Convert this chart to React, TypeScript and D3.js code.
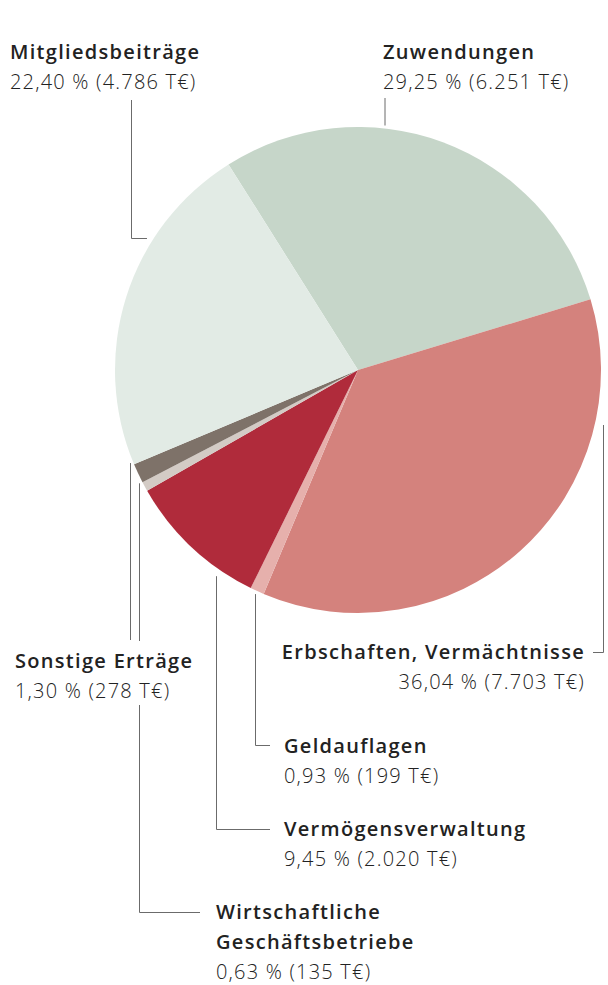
import React from "react";
import * as d3 from "d3";

// Ertragsstruktur, Anteile in Prozent und Beträge in T€
const categories = [
  "Zuwendungen",
  "Erbschaften, Vermächtnisse",
  "Geldauflagen",
  "Vermögensverwaltung",
  "Wirtschaftliche Geschäftsbetriebe",
  "Sonstige Erträge",
  "Mitgliedsbeiträge",
];
const shares = [29.25, 36.04, 0.93, 9.45, 0.63, 1.3, 22.4];
const amounts = [6251, 7703, 199, 2020, 135, 278, 4786];
const titleLines = [
  ["Zuwendungen"],
  ["Erbschaften, Vermächtnisse"],
  ["Geldauflagen"],
  ["Vermögensverwaltung"],
  ["Wirtschaftliche", "Geschäftsbetriebe"],
  ["Sonstige Erträge"],
  ["Mitgliedsbeiträge"],
];
const colors = ["#c6d6c9", "#d4827d", "#e6b0ac", "#b02b3b", "#d3cbc5", "#7e7269", "#e2ebe5"];

const W = 608;
const H = 985;
const cx = 358;
const cy = 370;
const R = 243;
const startDeg = -32.2;

// label placement and leader routing (layout only)
type Lbl = { x: number; y: number; anchor: string; knockout?: number[]; leader: () => [number, number][] };
const edgeX = (y: number, side: number) => cx + side * Math.sqrt(R * R - (y - cy) * (y - cy));
const edgeY = (x: number, side: number) => cy + side * Math.sqrt(R * R - (x - cx) * (x - cx));

const labels: Lbl[] = [
  { x: 383, y: 59, anchor: "start", leader: () => [[385, 98], [385, edgeY(385, -1) - 3]] },
  { x: 585, y: 659, anchor: "end", leader: () => [[593, 652.5], [603.5, 652.5], [603.5, 425]] },
  { x: 284, y: 753, anchor: "start", leader: () => [[270, 745.5], [255.5, 745.5], [255.5, edgeY(255, 1) + 4]] },
  { x: 284, y: 836, anchor: "start", leader: () => [[270, 829.5], [216.5, 829.5], [216.5, edgeY(216, 1) + 9]] },
  { x: 216, y: 919, anchor: "start", leader: () => [[200, 912.5], [139.5, 912.5], [139.5, edgeY(139, 1) + 8]] },
  { x: 15, y: 668, anchor: "start", knockout: [0, 641, 200, 64], leader: () => [[130.5, 640], [130.5, edgeY(130, 1) + 9]] },
  { x: 10, y: 59, anchor: "start", leader: () => [[131.5, 100], [131.5, 238.5], [edgeX(238, -1) - 7, 238.5]] },
];

const fmtPct = (v: number) => v.toFixed(2).replace(".", ",");
const fmtAmt = (v: number) => d3.format(",")(v).replace(/,/g, ".");

export default function App() {
  const data = categories.map((c, i) => ({ name: c, share: shares[i], amount: amounts[i], color: colors[i] }));
  const start = (startDeg * Math.PI) / 180;
  const pie = d3
    .pie<any>()
    .sort(null)
    .value((d) => d.share)
    .startAngle(start)
    .endAngle(start + Math.PI * 2);
  const arc = d3.arc<any>().innerRadius(0).outerRadius(R);
  const arcs = pie(data);
  const line = d3.line();
  const font = "'Open Sans', 'Noto Sans', sans-serif";

  return (
    <svg width={W} height={H} style={{ position: "absolute", left: 0, top: 0, background: "#fff" }}>
      <g transform={`translate(${cx},${cy})`}>
        {arcs.map((a, i) => (
          <path key={i} d={arc(a) || ""} fill={a.data.color} />
        ))}
      </g>
      {labels.map((l, i) => (
        <path key={"l" + i} d={line(l.leader()) || ""} fill="none" stroke="#6b6b6b" strokeWidth={1} />
      ))}
      {labels.map((l, i) =>
        l.knockout ? (
          <rect key={"k" + i} x={l.knockout[0]} y={l.knockout[1]} width={l.knockout[2]} height={l.knockout[3]} fill="#fff" />
        ) : null
      )}
      {labels.map((l, i) => {
        const tl = titleLines[i];
        return (
          <text key={"t" + i} x={l.x} y={l.y} textAnchor={l.anchor} fontFamily={font} fontSize={20}>
            {tl.map((t, j) => (
              <tspan key={j} x={l.x} dy={j === 0 ? 0 : 30} fill="#222" fontWeight={600} letterSpacing={1.3}>
                {t}
              </tspan>
            ))}
            <tspan x={l.x} dy={30} fill="#222" fontWeight={300} letterSpacing={1.2}>
              {`${fmtPct(shares[i])} % (${fmtAmt(amounts[i])} T€)`}
            </tspan>
          </text>
        );
      })}
    </svg>
  );
}
